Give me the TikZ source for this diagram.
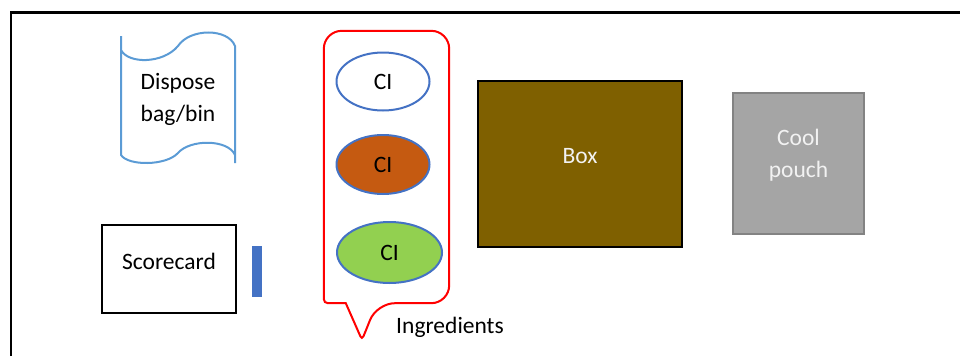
\documentclass[tikz,border=0pt]{standalone}
\usepackage{fontspec}
\setmainfont{Carlito}
\usetikzlibrary{shapes.geometric}
\usetikzlibrary{calc}
\definecolor{edgeblue}{HTML}{4472C4}
\definecolor{tapeblue}{HTML}{5B9BD5}
\definecolor{crate}{HTML}{7F6000}
\definecolor{rust}{HTML}{C55A11}
\definecolor{leaf}{HTML}{92D050}
\definecolor{pouchgrey}{HTML}{A5A5A5}
\definecolor{pouchedge}{HTML}{838383}
\definecolor{paletext}{HTML}{F2F2F2}
\tikzset{frame/.style={line width=2.5pt, line cap=butt}}
\tikzset{binline/.style={draw=tapeblue, line width=2pt}}
\tikzset{ci/.style={ellipse, draw=edgeblue, line width=2pt, inner sep=0pt, minimum width=93pt, minimum height=58pt}}
\tikzset{bubble/.style={draw=red, line width=2pt}}
\tikzset{card/.style={rectangle, draw, line width=2.5pt, minimum width=134pt, minimum height=88pt}}
\tikzset{boxcell/.style={rectangle, draw, fill=crate, line width=2.5pt, minimum width=204pt, minimum height=166pt}}

\begin{document}
\begin{tikzpicture}[x=1pt, y=-1pt, font=\fontsize{23.5}{32}\selectfont]

    \useasboundingbox (0,0) rectangle (960,356);
    \draw[frame] (11,356) -- (11,12.5) -- (960,12.5);

    % left column
    \node[align=center, minimum width=114pt, minimum height=126pt] (bin) at (178,99) {Dispose\\bag/bin};
    \draw[binline, shift={(bin.center)}]
      (-57,-49) .. controls (-50,-35) and (-15,-35) .. (0,-53) .. controls (12,-71) and (50,-71) .. (57,-53) -- (57,64)
      (57,56) .. controls (50,40) and (12,40) .. (0,54) .. controls (-12,67) and (-50,67) .. (-57,56) -- (-57,-63);
    \node[card, label={[yshift=8pt]center: Scorecard}] (score) at (169,269) {};
    \node[rectangle, fill=edgeblue, minimum width=10pt, minimum height=51pt, inner sep=0pt] (bar) at (257,271.5) {};

    % ingredients callout
    \node[ci] (ci1) at (383,81.5) {CI};
    \node[ci, fill=rust, minimum height=59pt] (ci2) at (383,164.5) {CI};
    \node[ci, fill=leaf, minimum width=105pt, minimum height=61pt] (ci3) at (389.5,252.5) {CI};
    \node[minimum width=125pt, minimum height=272pt, inner sep=0pt] (ingr) at (386.5,167) {};
    \coordinate (tip) at (362,340);
    \draw[bubble, rounded corners=18pt] (ingr.north) -- (ingr.north east) -- (ingr.south east)
      -- ($(ingr.south west)+(53,0)$) [rounded corners=4pt] -- (tip)
      [sharp corners] -- ($(ingr.south west)+(22,0)$)
      [rounded corners=4pt] -- (ingr.south west)
      [rounded corners=18pt] -- (ingr.north west) -- cycle;
    \node (ingrtext) at (450,327) {Ingredients};

    % box and cool pouch
    \node[boxcell, label={[yshift=8pt, text=paletext]center: Box}] (box) at (580,164) {};
    \node[rectangle, draw=pouchedge, fill=pouchgrey, line width=2.5pt, minimum width=131pt, minimum height=141pt,
      label={[yshift=8pt, text=paletext, align=center]center: Cool\\pouch}] (pouch) at (798.5,163.5) {};

  \end{tikzpicture}
\end{document}
